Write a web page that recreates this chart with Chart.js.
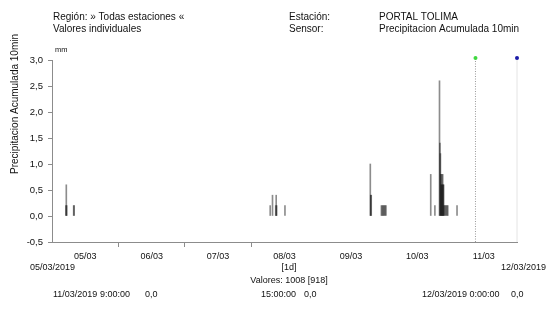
<!DOCTYPE html>
<html>
<head>
<meta charset="utf-8">
<script src="https://cdn.jsdelivr.net/npm/chart.js@4"></script>
<style>
  html, body { margin: 0; padding: 0; background: #fff; }
  #wrap { width: 550px; height: 309px; position: relative; }
</style>
</head>
<body>
<div id="wrap"><canvas id="c" width="550" height="309"></canvas></div>
<script>
// ---- Data ----
const stamps = [
  "05/03 05:00","05/03 05:10","05/03 05:20","05/03 07:50","05/03 08:00",
  "08/03 06:50","08/03 07:40","08/03 08:50","08/03 09:00","08/03 09:10","08/03 12:10",
  "09/03 19:00","09/03 19:10","09/03 19:20",
  "09/03 23:00","09/03 23:20","09/03 23:40","10/03 00:00","10/03 00:20","10/03 00:40",
  "10/03 16:50","10/03 18:20",
  "10/03 20:00","10/03 20:10","10/03 20:20","10/03 20:30","10/03 20:40","10/03 20:50",
  "10/03 21:00","10/03 21:10","10/03 21:20","10/03 21:30",
  "10/03 21:40","10/03 22:00","10/03 22:20","10/03 22:40","10/03 23:00",
  "11/03 02:20"
];
const values = [
  0.2,0.6,0.2,0.2,0.2,
  0.2,0.4,0.2,0.4,0.2,0.2,
  1.0,0.4,0.4,
  0.2,0.2,0.2,0.2,0.2,0.2,
  0.8,0.2,
  2.6,1.4,1.2,0.8,0.6,0.8,
  0.6,0.8,0.6,0.6,
  0.2,0.2,0.2,0.2,0.2,
  0.2
];
const dayLabels = ["05/03","06/03","07/03","08/03","09/03","10/03","11/03"];
const yTicks = [-0.5,0,0.5,1.0,1.5,2.0,2.5,3.0];
const cursorStamp = "11/03 09:00";
const endStamp = "12/03 00:00";
const markerLevel = 3.04;

// hours since 05/03/2019 00:00
function toHours(s) {
  const [d, t] = s.split(" ");
  const day = parseInt(d.split("/")[0], 10);
  const [hh, mm] = t.split(":").map(Number);
  return (day - 5) * 24 + hh + mm / 60;
}
const barData = stamps.map((s, i) => ({ x: toHours(s), y: values[i] }));
const cursorX = toHours(cursorStamp);
const endX = toHours(endStamp);

const FONT = "'Liberation Sans', Arial, sans-serif";

const textPlugin = {
  id: 'texts',
  afterDraw(chart) {
    const ctx = chart.ctx;
    ctx.save();
    ctx.fillStyle = '#111';
    ctx.textBaseline = 'middle';
    ctx.textAlign = 'left';
    ctx.font = '10px ' + FONT;
    ctx.fillText('Región: » Todas estaciones «', 53, 17);
    ctx.fillText('Valores individuales', 53, 29);
    ctx.fillText('Estación:', 289, 17);
    ctx.fillText('Sensor:', 289, 29);
    ctx.fillText('PORTAL TOLIMA', 379, 17);
    ctx.fillText('Precipitacion Acumulada 10min', 379, 29);

    ctx.font = '7.5px ' + FONT;
    ctx.fillText('mm', 55, 50);

    ctx.font = '9px ' + FONT;
    ctx.fillText('05/03/2019', 30, 268);
    ctx.textAlign = 'right';
    ctx.fillText('12/03/2019', 546, 268);
    ctx.textAlign = 'center';
    ctx.fillText('[1d]', 289, 268);
    ctx.fillText('Valores: 1008 [918]', 289, 281);
    ctx.textAlign = 'left';
    ctx.fillText('11/03/2019 9:00:00', 53, 294.5);
    ctx.fillText('0,0', 145, 294.5);
    ctx.fillText('15:00:00', 261, 294.5);
    ctx.fillText('0,0', 304, 294.5);
    ctx.fillText('12/03/2019 0:00:00', 422, 294.5);
    ctx.fillText('0,0', 511, 294.5);

    // y axis title
    ctx.save();
    ctx.translate(15, 104);
    ctx.rotate(-Math.PI / 2);
    ctx.textAlign = 'center';
    ctx.font = '10px ' + FONT;
    ctx.fillText('Precipitacion Acumulada 10min', 0, 0);
    ctx.restore();
    ctx.restore();
  }
};

new Chart(document.getElementById('c'), {
  type: 'bar',
  data: {
    datasets: [
      {
        type: 'line',
        data: [{ x: endX, y: -0.5 }, { x: endX, y: markerLevel }],
        borderColor: '#e4e4e4',
        borderWidth: 1,
        pointRadius: 0,
        clip: false,
        order: 5
      },
      {
        type: 'line',
        data: [{ x: cursorX, y: -0.5 }, { x: cursorX, y: markerLevel }],
        borderColor: '#9a9a9a',
        borderWidth: 1,
        borderDash: [1, 1.5],
        pointRadius: 0,
        clip: false,
        order: 4
      },
      {
        type: 'bar',
        data: barData,
        backgroundColor: 'rgba(0,0,0,0.45)',
        borderWidth: 0,
        barThickness: 1,
        order: 3
      },
      {
        type: 'scatter',
        data: [{ x: cursorX, y: markerLevel }],
        pointRadius: 2,
        pointBackgroundColor: '#3fd83f',
        pointBorderWidth: 0,
        clip: false,
        order: 1
      },
      {
        type: 'scatter',
        data: [{ x: endX, y: markerLevel }],
        pointRadius: 2,
        pointBackgroundColor: '#1c1ca8',
        pointBorderWidth: 0,
        clip: false,
        order: 1
      }
    ]
  },
  options: {
    responsive: false,
    animation: false,
    parsing: true,
    layout: { padding: { left: 0, right: 33, top: 60, bottom: 0 } },
    plugins: { legend: { display: false }, tooltip: { enabled: false } },
    scales: {
      x: {
        type: 'linear',
        min: 0,
        max: 168,
        offset: false,
        afterBuildTicks(scale) {
          const t = [];
          for (let v = 0; v <= 168; v += 12) t.push({ value: v });
          scale.ticks = t;
        },
        afterFit(scale) { scale.height = 67; },
        border: { color: '#8c8c8c', width: 1 },
        grid: {
          drawOnChartArea: false,
          offset: false,
          tickLength: 5,
          tickColor(ctx) {
            const v = ctx.tick && ctx.tick.value;
            return (v === 24 || v === 48 || v === 72) ? '#8c8c8c' : 'rgba(0,0,0,0)';
          }
        },
        ticks: {
          autoSkip: false,
          maxRotation: 0,
          minRotation: 0,
          padding: 4,
          color: '#111',
          font: { family: FONT, size: 9 },
          callback(value) {
            if (value % 24 === 12) return dayLabels[(value - 12) / 24];
            return '';
          }
        }
      },
      y: {
        type: 'linear',
        min: -0.5,
        max: 3.0,
        afterBuildTicks(scale) {
          scale.ticks = yTicks.map(v => ({ value: v }));
        },
        afterFit(scale) { scale.width = 52; },
        border: { color: '#8c8c8c', width: 1 },
        grid: {
          drawOnChartArea: false,
          tickLength: 4,
          tickColor: '#8c8c8c'
        },
        ticks: {
          padding: 5,
          color: '#111',
          font: { family: FONT, size: 9.5 },
          callback(value) { return value.toFixed(1).replace('.', ','); }
        }
      }
    }
  },
  plugins: [textPlugin]
});
</script>
</body>
</html>
